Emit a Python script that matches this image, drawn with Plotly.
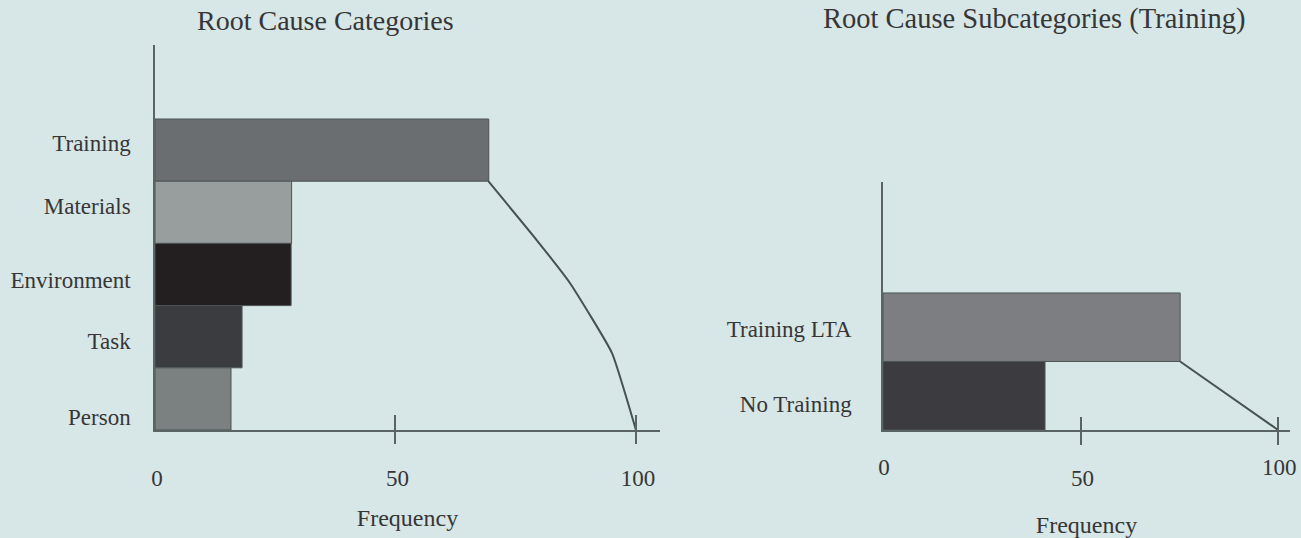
import plotly.graph_objects as go

# ---------------- data ----------------
cat_labels = ["Training", "Materials", "Environment", "Task", "Person"]
cat_values = [69.4, 28.4, 28.3, 18.1, 15.8]
cat_colors = ["#6a6e70", "#989d9e", "#231f20", "#3b3c3f", "#7b8081"]
# cumulative curve (frequency, position along the category axis)
cat_curve_x = [69.3, 79.4, 86.3, 95.0, 100.0]
cat_curve_y = [3.5, 2.55, 1.86, 0.74, -0.5]

sub_labels = ["Training LTA", "No Training"]
sub_values = [75.2, 41.0]
sub_colors = ["#7c7e81", "#3c3c40"]
sub_curve_x = [75.2, 100.0]
sub_curve_y = [0.5, -0.5]

x_ticks = [0, 50, 100]
x_tick_text = ["0", "50", "100"]
tick_marks = [50, 100]

# ---------------- style ----------------
W, H = 1301, 538
BG = "#d7e6e6"
AX = "#5a6465"
TXT = "#363636"
FONT = "Liberation Serif"

def fx(p):
    return p / W

def fy(p):
    return 1 - p / H

cat_pos = [len(cat_labels) - 1 - i for i in range(len(cat_labels))]
sub_pos = [len(sub_labels) - 1 - i for i in range(len(sub_labels))]
cat_label_nudge = [0.11, 0.10, -0.09, -0.07, -0.29]
sub_label_nudge = [-0.03, -0.12]

fig = go.Figure()

fig.add_trace(go.Bar(
    x=cat_values, y=cat_pos, orientation="h", width=1,
    marker=dict(color=cat_colors, line=dict(color="#4d5556", width=1)),
    xaxis="x", yaxis="y", showlegend=False, hoverinfo="skip"))
fig.add_trace(go.Scatter(
    x=cat_curve_x, y=cat_curve_y, mode="lines",
    line=dict(color="#465152", width=2, shape="spline", smoothing=0.4),
    xaxis="x", yaxis="y", showlegend=False, hoverinfo="skip"))

fig.add_trace(go.Bar(
    x=sub_values, y=sub_pos, orientation="h", width=1,
    marker=dict(color=sub_colors, line=dict(color="#4d5556", width=1)),
    xaxis="x2", yaxis="y2", showlegend=False, hoverinfo="skip"))
fig.add_trace(go.Scatter(
    x=sub_curve_x, y=sub_curve_y, mode="lines",
    line=dict(color="#465152", width=2),
    xaxis="x2", yaxis="y2", showlegend=False, hoverinfo="skip"))

# empty traces to host the overlay tick axes
for xa, ya in [("x3", "y"), ("x4", "y"), ("x5", "y2"), ("x6", "y2")]:
    fig.add_trace(go.Scatter(x=[], y=[], xaxis=xa, yaxis=ya,
                             showlegend=False, hoverinfo="skip"))

common_axis = dict(showgrid=False, zeroline=False, automargin=False,
                   fixedrange=True)

L_RANGE = [0, 105]
R_RANGE = [0, 103]

fig.update_layout(
    width=W, height=H,
    margin=dict(l=0, r=0, t=0, b=0),
    paper_bgcolor=BG, plot_bgcolor=BG,
    font=dict(family=FONT, color=TXT),
    barmode="overlay",
    xaxis=dict(domain=[fx(155), fx(660)], range=L_RANGE, anchor="y",
               showline=True, linecolor=AX, linewidth=1.5,
               tickmode="array", tickvals=x_ticks, ticktext=x_tick_text,
               ticks="", ticklabelstandoff=27, ticklabelshift=2,
               ticklabeloverflow="allow",
               tickfont=dict(size=23, color=TXT),
               title=dict(text="Frequency", font=dict(size=24, color=TXT),
                          standoff=19),
               **common_axis),
    yaxis=dict(domain=[fy(430), fy(45)], range=[-0.5, 5.69], anchor="x",
               showline=True, linecolor=AX, linewidth=1.5,
               tickmode="array",
               tickvals=[p + n for p, n in zip(cat_pos, cat_label_nudge)],
               ticktext=cat_labels, ticks="", ticklabelstandoff=18,
               tickfont=dict(size=23, color=TXT),
               **common_axis),
    xaxis3=dict(overlaying="x", anchor="y", range=L_RANGE,
                tickmode="array", tickvals=tick_marks, ticks="outside",
                ticklen=13, tickwidth=1.5, tickcolor=AX,
                showticklabels=False, showline=False, **common_axis),
    xaxis4=dict(overlaying="x", anchor="y", range=L_RANGE,
                tickmode="array", tickvals=tick_marks, ticks="inside",
                ticklen=15, tickwidth=1.5, tickcolor=AX,
                showticklabels=False, showline=False, **common_axis),
    xaxis2=dict(domain=[fx(883), fx(1290)], range=R_RANGE, anchor="y2",
                showline=True, linecolor=AX, linewidth=1.5,
                tickmode="array", tickvals=[x_ticks[0], x_ticks[2]],
                ticktext=[x_tick_text[0], x_tick_text[2]],
                ticks="", ticklabelstandoff=16, ticklabelshift=1,
                ticklabeloverflow="allow",
                tickfont=dict(size=23, color=TXT),
                title=dict(text="Frequency", font=dict(size=24, color=TXT),
                           standoff=56),
                **common_axis),
    yaxis2=dict(domain=[fy(430), fy(182)], range=[-0.5, 3.12], anchor="x2",
                showline=True, linecolor=AX, linewidth=1.5,
                tickmode="array",
                tickvals=[p + n for p, n in zip(sub_pos, sub_label_nudge)],
                ticktext=sub_labels, ticks="", ticklabelstandoff=25,
                tickfont=dict(size=23, color=TXT),
                **common_axis),
    xaxis5=dict(overlaying="x2", anchor="y2", range=R_RANGE,
                tickmode="array", tickvals=tick_marks,
                ticktext=[x_tick_text[1], ""], ticks="outside",
                ticklen=14, tickwidth=1.5, tickcolor=AX,
                ticklabelstandoff=13, ticklabelshift=2,
                ticklabeloverflow="allow",
                tickfont=dict(size=23, color=TXT),
                showline=False, **common_axis),
    xaxis6=dict(overlaying="x2", anchor="y2", range=R_RANGE,
                tickmode="array", tickvals=tick_marks, ticks="inside",
                ticklen=13, tickwidth=1.5, tickcolor=AX,
                showticklabels=False, showline=False, **common_axis),
    annotations=[
        dict(text="Root Cause Categories", x=fx(325), y=fy(20),
             xref="paper", yref="paper", xanchor="center", yanchor="middle",
             showarrow=False, font=dict(size=28, color=TXT)),
        dict(text="Root Cause Subcategories (Training)", x=fx(1034), y=fy(19),
             xref="paper", yref="paper", xanchor="center", yanchor="middle",
             showarrow=False, font=dict(size=28.5, color=TXT)),
    ],
)

fig.write_html("out.html",
               config={"displayModeBar": False},
               post_script="document.body.style.margin='0';"
                           "document.body.style.overflow='hidden';")
